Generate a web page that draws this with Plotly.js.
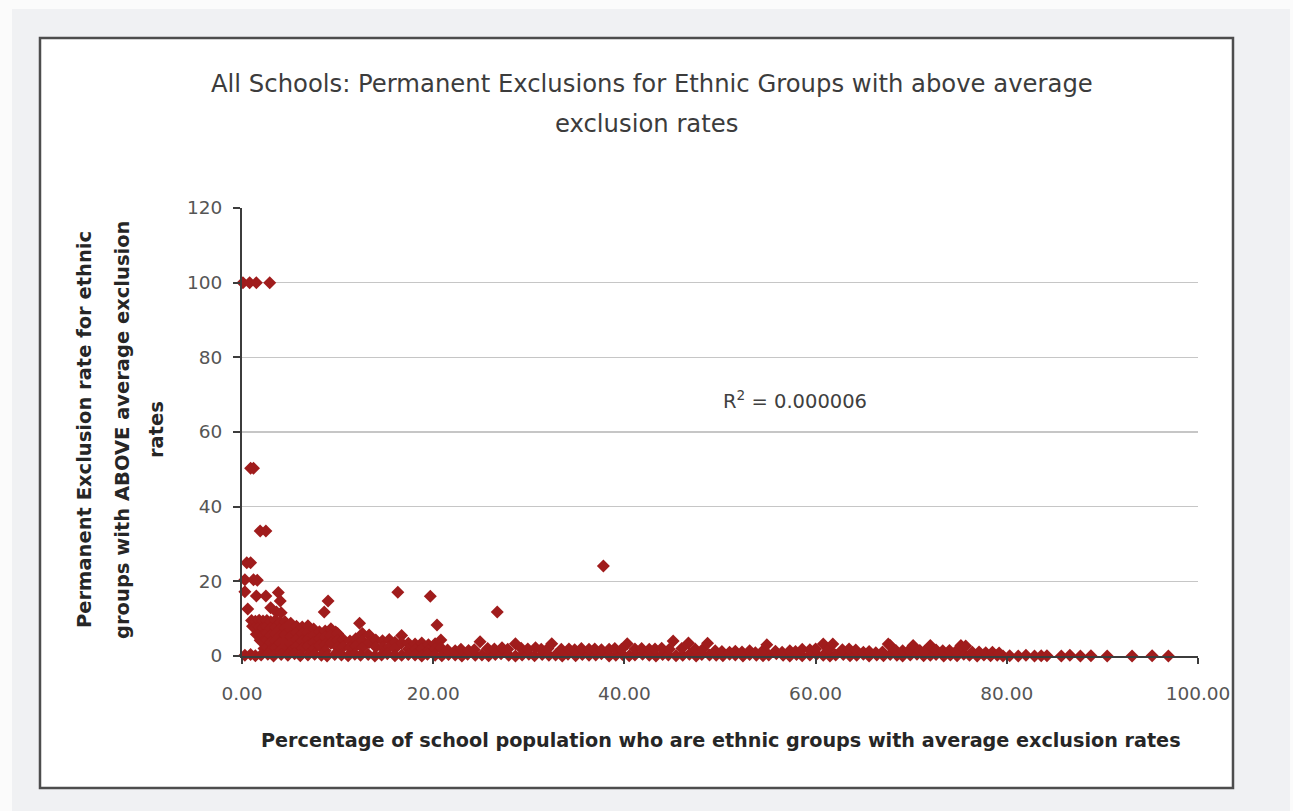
<!DOCTYPE html>
<html>
<head>
<meta charset="utf-8">
<script src="https://cdn.plot.ly/plotly-3.0.1.min.js"></script>
<style>html,body{margin:0;padding:0;background:#fbfbfb;}#chart{width:1293px;height:811px;}</style>
</head>
<body>
<div id="chart"></div>
<script>
// ---- data ----
var outlierX = [0.1,0.8,1.5,2.9, 0.9,1.2, 1.9,2.5, 0.5,0.9, 0.3,1.2,1.6, 0.3,1.5,2.5,3.8,4.0, 0.6,3.0,3.6,4.1, 9.0,8.6,16.3,19.7,20.4,26.7,12.3,9.8,37.8];
var outlierY = [100,100,100,100, 50.3,50.3, 33.5,33.5, 25,25, 20.4,20.4,20.3, 17.2,16.1,16.1,17.0,14.7, 12.6,12.9,11.8,11.6, 14.7,11.8,17.1,16.0,8.3,11.8,8.8,6.4,24.1];

var cloudX = [1.0,1.1, 1.4,1.4,1.5, 1.8,1.8,1.8,1.9, 2.2,2.2,2.2,2.2,2.3, 2.6,2.6,2.6,2.6,2.6, 3.0,3.0,3.0,3.0,3.1,
  3.5,3.5,3.5,3.5,3.5, 4.0,4.0,4.0,4.0,4.1, 4.5,4.5,4.5,4.5,4.6, 5.1,5.1,5.1,5.1,5.2, 5.7,5.7,5.7,5.7,
  6.3,6.3,6.3,6.3, 6.9,6.9,6.9,6.9, 7.5,7.5,7.5,7.5, 8.1,8.1,8.1, 8.7,8.7,8.7,8.7, 9.3,9.3,9.3,
  10.0,10.0,10.0, 10.6,10.6, 11.3,11.3, 11.9,11.9, 12.6,12.6,12.6, 13.3,13.3, 14.0,14.0, 14.7,14.7,
  15.4,15.4, 16.0,16.0, 16.7,16.7, 17.4,17.4, 18.1,18.1, 18.8,18.8, 19.5,19.5, 20.2,20.2, 20.8,20.8];
var cloudY = [9.5,8.0, 9.3,7.5,5.8, 9.6,7.8,6.0,4.2, 9.4,7.6,5.6,3.8,2.0, 9.5,7.9,6.1,4.3,2.4, 9.2,7.4,5.5,3.6,1.8,
  9.6,7.7,5.9,4.0,2.2, 9.0,7.3,5.4,3.5,1.7, 9.2,7.5,5.7,3.9,2.0, 8.8,7.0,5.2,3.3,1.5, 8.0,6.2,4.4,2.5,
  7.8,6.0,4.0,2.0, 8.1,6.3,4.5,2.6, 7.2,5.4,3.6,1.8, 6.5,4.6,2.8, 6.7,5.0,3.0,1.4, 7.3,5.5,3.4,
  6.0,4.1,2.3, 4.4,2.5, 4.0,2.2, 4.6,2.7, 6.0,4.1,2.2, 5.6,3.6, 4.3,2.4, 4.1,2.3,
  4.4,2.5, 3.7,2.0, 5.5,3.5, 3.4,1.8, 3.2,1.6, 3.5,1.9, 3.0,1.5, 3.3,1.8, 4.3,2.2];

var baseX = [0.3,0.9,1.4,2.0,2.7,3.3,4.1,4.8,5.5,6.1,6.9,7.6,8.3,8.9,9.7,10.4,11.1,11.8,12.4,13.2,13.9,14.6,15.2,16.0,16.7,17.4,18.1,18.8,19.4,
  20.2,20.9,21.6,22.3,23.0,23.6,24.4,25.1,25.8,26.5,27.1,27.9,28.6,29.3,30.0,30.6,31.4,32.1,32.8,33.5,34.1,34.9,35.6,36.3,37.0,37.6,38.4,39.1,39.8,
  40.5,41.1,41.9,42.6,43.3,44.0,44.6,45.4,46.1,46.8,47.5,48.1,48.9,49.6,50.3,51.0,51.6,52.4,53.1,53.8,54.5,55.1,55.9,56.6,57.3,58.0,58.6,59.4,
  60.1,60.8,61.5,62.1,62.9,63.6,64.3,65.0,65.6,66.4,67.1,67.8,68.5,69.1,69.9,70.6,71.3,72.0,72.6,73.4,74.1,74.8,75.5,76.1,76.9,77.6,78.3,79.0,79.6,
  80.3,81.2,82.0,82.9,83.6];
var baseY = [0.2,0.4,0.1,0.3,0.5,0.0,0.4,0.2,0.6,0.1,0.3,0.5,0.2,0.0,0.4,0.3,0.1,0.5,0.2,0.4,0.0,0.3,0.6,0.1,0.2,0.4,0.3,0.0,0.5,
  0.2,0.1,0.4,0.3,0.0,0.5,0.2,0.3,0.1,0.4,0.6,0.2,0.0,0.3,0.5,0.1,0.4,0.2,0.3,0.0,0.5,0.1,0.4,0.2,0.3,0.6,0.0,0.2,0.4,
  0.1,0.3,0.5,0.2,0.0,0.4,0.3,0.1,0.2,0.5,0.0,0.4,0.3,0.2,0.1,0.5,0.3,0.0,0.4,0.2,0.1,0.3,0.6,0.2,0.0,0.4,0.1,0.3,
  0.5,0.2,0.0,0.3,0.4,0.1,0.2,0.5,0.0,0.3,0.1,0.4,0.2,0.0,0.3,0.5,0.1,0.2,0.4,0.0,0.3,0.1,0.5,0.2,0.0,0.3,0.1,0.2,0.0,
  0.1,0.0,0.2,0.0,0.1];

var bandX = [21.5,22.3,22.9,23.7,24.3,24.9,25.7,26.4,27.2,27.8,28.6,29.2,29.9,30.7,31.3,32.0,32.4,33.4,34.2,34.8,35.5,36.3,36.9,37.6,38.4,39.0,39.7,40.3,41.1,41.8,
  42.6,43.2,43.9,44.7,45.1,46.0,46.7,47.4,48.2,48.7,49.5,50.2,51.0,51.6,52.3,53.1,53.7,54.4,54.9,55.8,56.5,57.3,57.9,58.6,59.4,60.0,60.8,61.4,61.8,62.8,
  63.5,64.2,65.0,65.6,66.3,67.0,67.6,67.8,68.4,69.1,69.8,70.2,70.9,71.4,72.0,72.6,73.3,74.0,74.7,75.2,75.7,76.4,77.1,77.8,78.5,79.2];
var bandY = [1.6,1.4,1.8,1.5,1.7,3.8,2.0,1.9,2.2,1.8,3.3,2.1,1.9,2.2,1.8,2.0,3.3,1.8,1.9,1.7,2.0,1.8,1.9,1.7,1.8,2.0,1.8,3.3,1.9,2.0,
  1.8,1.9,2.1,1.8,4.0,2.0,3.5,1.9,1.8,3.4,1.4,1.2,1.0,1.3,1.1,1.4,0.9,1.2,3.0,1.3,1.0,1.4,1.2,1.8,1.7,1.9,3.2,1.8,3.2,1.7,
  1.9,1.6,1.0,1.2,0.9,1.1,3.2,2.8,1.5,1.4,1.6,2.8,1.5,1.3,2.8,1.6,1.4,1.5,1.3,2.8,2.7,1.0,1.1,0.9,1.0,0.8];

var tailX = [84.2,85.7,86.6,87.7,88.8,90.5,93.1,95.2,96.9];
var tailY = [0.1,0.0,0.2,0.0,0.1,0.0,0.0,0.1,0.0];

var rSquaredText = 'R<sup>2</sup> = 0.000006';
var xTickVals = [0,20,40,60,80,100];
var yTickVals = [0,20,40,60,80,100,120];

var allX = outlierX.concat(cloudX, baseX, bandX, tailX);
var allY = outlierY.concat(cloudY, baseY, bandY, tailY);

var trace = {
  type: 'scatter', mode: 'markers', x: allX, y: allY,
  marker: {symbol: 'diamond', size: 10, color: '#a01c1c', line: {width: 0}},
  cliponaxis: false, hoverinfo: 'x+y', showlegend: false
};

var fontReg = 'DejaVu Sans, Liberation Sans, sans-serif';
var layout = {
  width: 1293, height: 811,
  margin: {l: 242, r: 95, t: 208, b: 155, pad: 0},
  paper_bgcolor: '#fbfbfb', plot_bgcolor: '#ffffff',
  showlegend: false,
  xaxis: {
    range: [0, 100], tickvals: xTickVals, tickformat: '.2f',
    showgrid: false, zeroline: false, showline: true, linecolor: '#3c3c3c', linewidth: 2,
    ticks: 'outside', ticklen: 6, tickwidth: 2, tickcolor: '#3c3c3c',
    tickfont: {family: fontReg, size: 18.5, color: '#555555'}, ticklabelstandoff: 14
  },
  yaxis: {
    range: [0, 120], tickvals: yTickVals,
    showgrid: true, gridcolor: '#c6c6c6', gridwidth: 1.5, zeroline: false,
    showline: true, linecolor: '#3c3c3c', linewidth: 2,
    ticks: 'outside', ticklen: 7, tickwidth: 2, tickcolor: '#3c3c3c',
    tickfont: {family: fontReg, size: 18.5, color: '#555555'}, ticklabelstandoff: 7
  },
  shapes: [
    {type: 'rect', xref: 'paper', yref: 'paper', layer: 'below',
     x0: -0.2406, x1: 1.0962, y0: -0.346, y1: 1.4442, fillcolor: '#f0f1f3', line: {width: 0}},
    {type: 'rect', xref: 'paper', yref: 'paper', layer: 'below',
     x0: -0.2113, x1: 1.0366, y0: -0.2946, y1: 1.3795, fillcolor: '#ffffff', line: {color: '#4d4d4d', width: 2.5}}
  ],
  annotations: [
    {xref: 'paper', yref: 'paper', x: 0.4289, y: 1.279, xanchor: 'center', yanchor: 'middle', showarrow: false,
     text: 'All Schools: Permanent Exclusions for Ethnic Groups with above average',
     font: {family: fontReg, size: 24.3, color: '#3c3c3c'}},
    {xref: 'paper', yref: 'paper', x: 0.4226, y: 1.1897, xanchor: 'center', yanchor: 'middle', showarrow: false,
     text: 'exclusion rates', font: {family: fontReg, size: 24.3, color: '#3c3c3c'}},
    {xref: 'paper', yref: 'paper', x: 0.501, y: -0.1897, xanchor: 'center', yanchor: 'middle', showarrow: false,
     text: '<b>Percentage of school population who are ethnic groups with average exclusion rates</b>',
     font: {family: fontReg, size: 19.2, color: '#262626'}},
    {xref: 'paper', yref: 'paper', x: -0.1642, y: 0.5045, xanchor: 'center', yanchor: 'middle', showarrow: false, textangle: -90,
     text: '<b>Permanent Exclusion rate for ethnic</b>', font: {family: fontReg, size: 19.5, color: '#262626'}},
    {xref: 'paper', yref: 'paper', x: -0.1245, y: 0.5045, xanchor: 'center', yanchor: 'middle', showarrow: false, textangle: -90,
     text: '<b>groups with ABOVE average exclusion</b>', font: {family: fontReg, size: 19.5, color: '#262626'}},
    {xref: 'paper', yref: 'paper', x: -0.0889, y: 0.5045, xanchor: 'center', yanchor: 'middle', showarrow: false, textangle: -90,
     text: '<b>rates</b>', font: {family: fontReg, size: 19.5, color: '#262626'}},
    {xref: 'x', yref: 'y', x: 57.8, y: 68.6, xanchor: 'center', yanchor: 'middle', showarrow: false,
     text: rSquaredText, font: {family: fontReg, size: 19.5, color: '#404040'}}
  ]
};

Plotly.newPlot('chart', [trace], layout, {displayModeBar: false, staticPlot: true});
</script>
</body>
</html>
